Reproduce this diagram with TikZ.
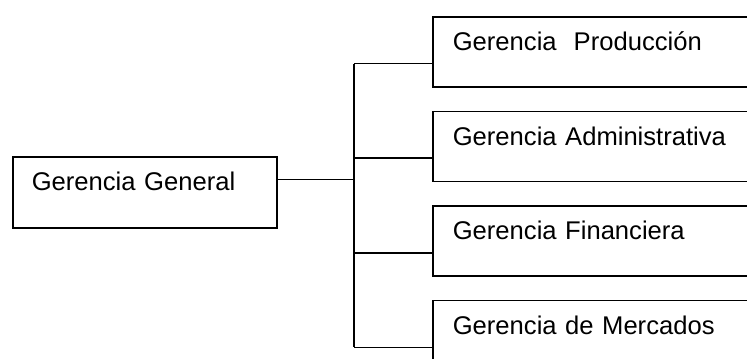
\documentclass[tikz,border=0pt]{standalone}
\usepackage{fontspec}
\setmainfont{Liberation Sans}
\usetikzlibrary{positioning}

\begin{document}
\begin{tikzpicture}[line width=0.8pt,node distance=11.5pt,
      gerencia/.style={draw,rectangle,align=left,inner ysep=0pt,
      font=\fontsize{12.8}{15}\selectfont,text height=17pt},
      jefe/.style={gerencia,inner xsep=9.5pt,text width=113pt,text depth=18.5pt},
      area/.style={gerencia,inner xsep=10pt,text width=150pt,text depth=18pt}]

      \path[use as bounding box,clip] (0,0) rectangle (373.5pt,179pt);

      %% CAJAS
      \node[jefe,anchor=north west] (gg) at (6pt,101pt) {Gerencia General};
      \node[area,anchor=north west] (gp) at (216pt,171pt) {Gerencia\ \ Producción};
      \node[area] (ga) [below=of gp] {Gerencia Administrativa};
      \node[area] (gf) [below=of ga] {Gerencia Financiera};
      \node[area] (gm) [below=of gf] {Gerencia de Mercados};

      %% LINEAS
      \coordinate (sal) at ([yshift=-11.75pt]gg.north east);
      \coordinate (bus) at ([xshift=-39pt]gp.south west);
      \draw (sal) -- (sal -| bus);
      \draw ([yshift=12pt]gp.south west -| bus) -- ([yshift=12pt]gm.south west -| bus);
      \foreach \n in {gp,ga,gf,gm}
        \draw ([yshift=12pt]\n.south west -| bus) -- ([yshift=12pt]\n.south west);
\end{tikzpicture}
\end{document}
